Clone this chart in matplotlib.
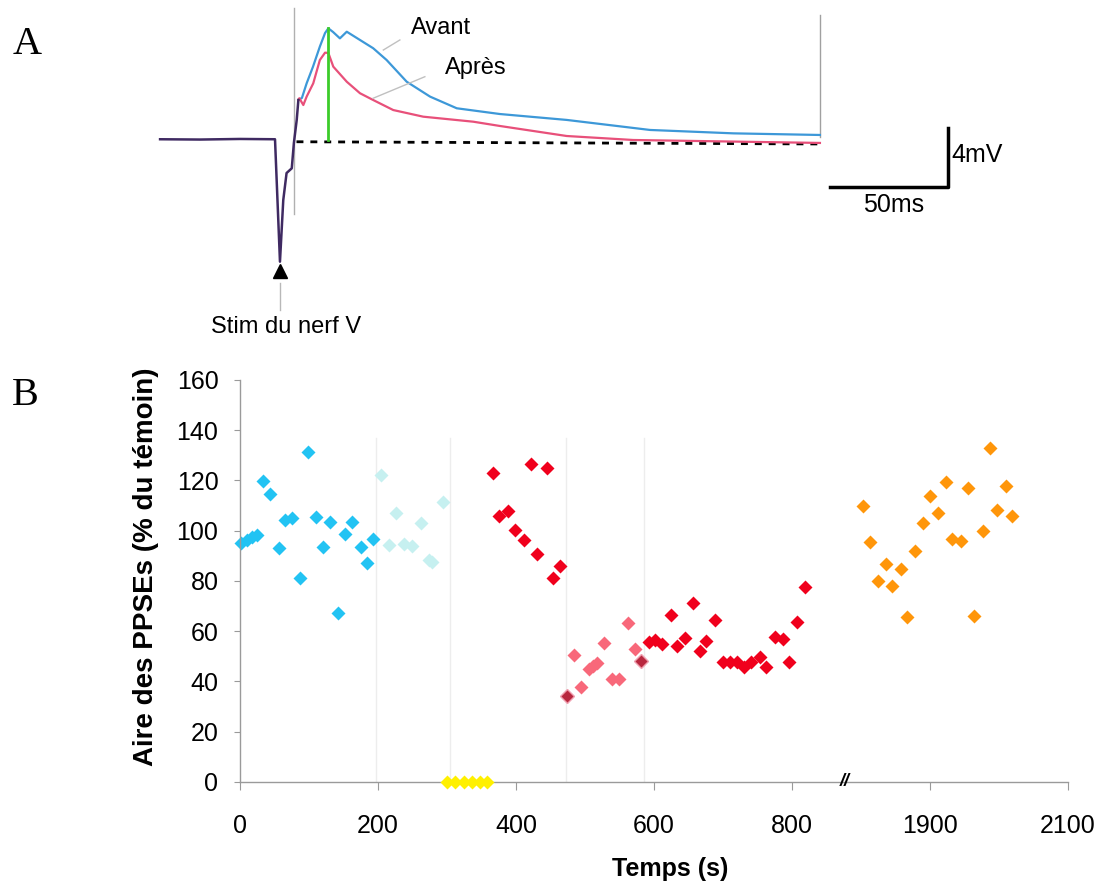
import matplotlib
matplotlib.use("Agg")
import matplotlib.pyplot as plt

plt.rcParams['font.family'] = ['Liberation Sans', 'DejaVu Sans']

# --- Panel A : traces moyennes (ms apres stimulation, mV par rapport a la ligne de base)
t_common = [-50.8, -33.9, -16.9, -2.1, 0.0, 1.4, 2.8, 5.0, 5.9, 7.1, 7.8]
v_common = [0.05, 0.03, 0.07, 0.05, -8.25, -4.07, -2.24, -1.92, -0.2, 1.36, 2.71]

t_avant = [7.8, 9.3, 11.3, 14.0, 16.9, 19.1, 20.5, 22.5, 25.4, 28.3, 33.9, 39.5,
           45.2, 53.7, 63.6, 74.9, 93.2, 121.5, 156.8, 192.1, 228.8]
v_avant = [2.71, 2.85, 3.84, 4.97, 6.33, 7.25, 7.57, 7.32, 6.89, 7.34, 6.78, 6.22,
           5.42, 3.95, 2.94, 2.15, 1.76, 1.36, 0.68, 0.45, 0.34]

t_apres = [7.8, 8.2, 9.9, 11.3, 14.1, 16.9, 19.1, 20.5, 22.6, 28.3, 33.9, 39.5,
           48.0, 60.7, 81.9, 93.2, 121.5, 149.6, 228.8]
v_apres = [2.71, 2.83, 2.37, 2.94, 3.84, 5.42, 5.92, 5.90, 4.97, 3.95, 3.17, 2.71,
           2.03, 1.58, 1.24, 0.95, 0.27, 0.0, -0.2]

# --- Panel B : aire des PPSEs (% du temoin) en fonction du temps (s)
blue_t = [1, 10, 17, 24, 33, 43, 56, 65, 75, 87, 98, 110, 120, 130, 142, 152, 163, 175, 184, 193]
blue_v = [95.0, 96.3, 97.4, 98.3, 119.9, 114.6, 93.0, 104.3, 105.0, 81.3, 131.5, 105.6,
          93.5, 103.6, 67.1, 98.7, 103.5, 93.4, 87.3, 96.7]

pale_t = [205, 216, 226, 237, 249, 262, 274, 279, 294]
pale_v = [122.2, 94.3, 107.0, 94.7, 93.9, 103.0, 88.4, 87.5, 111.6]

yellow_t = [300, 312, 324, 336, 348, 358]
yellow_v = [0, 0, 0, 0, 0, 0]

red1_t = [366, 376, 389, 399, 412, 422, 431, 445, 453, 464]
red1_v = [122.9, 105.9, 108.0, 100.3, 96.3, 126.4, 90.7, 124.9, 81.3, 86.0]

pink_t = [484, 494, 506, 512, 518, 527, 539, 550, 563, 573]
pink_v = [50.5, 37.7, 44.8, 46.2, 47.2, 55.2, 41.0, 41.0, 63.4, 52.9]

dark_t = [474, 581]
dark_v = [34.2, 48.3]

red2_t = [593, 602, 612, 625, 634, 645, 657, 667, 676, 689, 700, 710, 721, 730,
          741, 754, 763, 775, 787, 796, 808, 819]
red2_v = [55.6, 56.5, 54.9, 66.6, 54.1, 57.2, 71.4, 52.1, 56.2, 64.5, 47.9, 47.9,
          47.9, 45.9, 47.9, 49.9, 45.9, 57.8, 56.8, 47.9, 63.6, 77.7]

orange_t = [1803, 1813, 1825, 1836, 1845, 1858, 1867, 1878, 1890, 1900, 1911, 1923,
            1932, 1945, 1955, 1964, 1977, 1987, 1997, 2010, 2019]
orange_v = [109.9, 95.5, 79.9, 86.8, 78.0, 84.8, 65.7, 92.1, 103.0, 113.7, 106.9, 119.3,
            96.7, 96.0, 117.0, 66.2, 100.0, 132.8, 108.3, 117.8, 106.0]

x_ticks = [0, 200, 400, 600, 800, 1000, 1200]
x_tick_labels = ['0', '200', '400', '600', '800', '1900', '2100']
y_ticks = [0, 20, 40, 60, 80, 100, 120, 140, 160]

# l'axe est coupe : 1900 s est dessine a la place de 1000 s
break_offset = 900

fig = plt.figure(figsize=(11.1, 8.88), dpi=100)

# ---------------- Panel A ----------------
ax_a = fig.add_axes([0.1261, 0.6171, 0.8108, 0.3829])
ax_a.set_xlim(-59.32, 322.03)
ax_a.set_ylim(-13.56, 9.49)
ax_a.axis('off')

ax_a.plot([5.9, 5.9], [8.95, -5.0], color='#b0b0b0', lw=1)
ax_a.plot([228.8, 228.8], [8.47, 0.2], color='#a0a0a0', lw=1)
ax_a.plot([7.0, 228.8], [-0.12, -0.27], color='black', lw=2, ls=(0, (2.5, 2.5)))

ax_a.plot(t_avant, v_avant, color='#3d98d8', lw=1.6)
ax_a.plot(t_apres, v_apres, color='#e8507a', lw=1.6)
ax_a.plot(t_common, v_common, color='#3f2a62', lw=1.8)

ax_a.plot([20.5, 20.5], [0.0, 7.57], color='#3ccc2a', lw=2)

# lignes de rappel
ax_a.plot([43.8, 50.8], [6.1, 6.78], color='#c0c0c0', lw=1)
ax_a.plot([39.5, 61.4], [2.83, 4.29], color='#c0c0c0', lw=1)
ax_a.text(68.2, 7.6, 'Avant', fontsize=17, ha='center', va='center')
ax_a.text(83.1, 4.88, 'Après', fontsize=17, ha='center', va='center')

# barre d'echelle
ax_a.plot([233.1, 283.1, 283.1], [-3.19, -3.19, 0.81], color='black', lw=2.5)
ax_a.text(284.3, -1.02, '4mV', fontsize=18, ha='left', va='center')
ax_a.text(260.2, -4.41, '50ms', fontsize=18, ha='center', va='center')

# stimulation
ax_a.plot([0], [-8.9], marker='^', color='black', ms=10)
ax_a.plot([0, 0], [-9.7, -11.5], color='#b8b8b8', lw=1)
ax_a.text(2.5, -12.68, 'Stim du nerf V', fontsize=17, ha='center', va='center')

# ---------------- Panel B ----------------
ax_b = fig.add_axes([0.2162, 0.1194, 0.7459, 0.4527])
ax_b.set_xlim(0, 1200)
ax_b.set_ylim(0, 160)

for xv in [197, 304, 472, 585]:
    ax_b.axvline(xv, ymax=137 / 160, color='#ededed', lw=1, zorder=0)

ms = 7
ax_b.plot(blue_t, blue_v, 'D', color='#22c3f3', ms=ms, mec='none', clip_on=False)
ax_b.plot(pale_t, pale_v, 'D', color='#c6f0f0', ms=ms, mec='none', clip_on=False)
ax_b.plot(yellow_t, yellow_v, 'D', color='#fff000', ms=ms, mec='none', clip_on=False, zorder=5)
ax_b.plot(red1_t, red1_v, 'D', color='#f0001c', ms=ms, mec='none', clip_on=False)
ax_b.plot(pink_t, pink_v, 'D', color='#f8687a', ms=ms, mec='none', clip_on=False)
ax_b.plot(dark_t, dark_v, 'D', color='#b8283f', ms=ms, mec='#f0a0b0', mew=1, clip_on=False)
ax_b.plot(red2_t, red2_v, 'D', color='#f0001c', ms=ms, mec='none', clip_on=False)
orange_x = [t - break_offset for t in orange_t]
ax_b.plot(orange_x, orange_v, 'D', color='#ff960a', ms=ms, mec='none', clip_on=False)

ax_b.text(877, 0, '//', fontsize=13, fontweight='bold', style='italic',
          ha='center', va='center', clip_on=False, zorder=6)

for side in ['top', 'right']:
    ax_b.spines[side].set_visible(False)
for side in ['left', 'bottom']:
    ax_b.spines[side].set_color('#9a9a9a')
    ax_b.spines[side].set_linewidth(1)

ax_b.set_xticks(x_ticks)
ax_b.set_xticklabels(x_tick_labels)
ax_b.set_yticks(y_ticks)
ax_b.tick_params(axis='x', length=6, color='#9a9a9a', labelsize=18, pad=17)
ax_b.tick_params(axis='y', length=4.5, color='#9a9a9a', labelsize=18, pad=11)

ax_b.set_xlabel('Temps (s)', fontsize=18, fontweight='bold', x=0.52, labelpad=14)
ax_b.set_ylabel('Aire des PPSEs (% du témoin)', fontsize=20, fontweight='bold',
                y=0.535, labelpad=13)

# lettres des panneaux
fig.text(27 / 1110, 1 - 44 / 888, 'A', fontsize=29, family='Liberation Serif',
         ha='center', va='center')
fig.text(25 / 1110, 1 - 395 / 888, 'B', fontsize=29, family='Liberation Serif',
         ha='center', va='center')

fig.savefig('out.png', dpi=100)
